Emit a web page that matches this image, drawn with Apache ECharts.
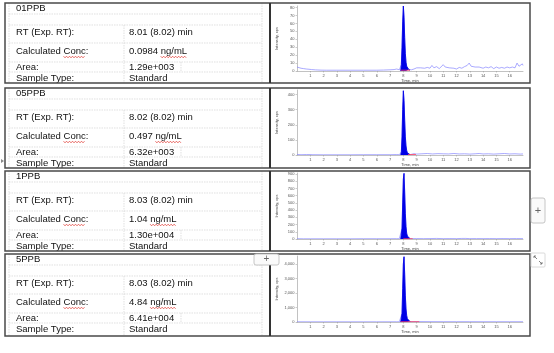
<!DOCTYPE html>
<html>
<head>
<meta charset="utf-8">
<title>Calibration standards</title>
<script src="https://cdn.jsdelivr.net/npm/echarts@6/dist/echarts.min.js"></script>
<style>html,body{margin:0;padding:0;background:#fff;}</style>
</head>
<body>
<div id="main" style="width:554px;height:353px;"></div>
<script type="text/javascript">
    // table text, one entry per standard
    var sampleNames = ['01PPB', '05PPB', '1PPB', '5PPB'];
    var rtValues = ['8.01 (8.02) min', '8.02 (8.02) min', '8.03 (8.02) min', '8.03 (8.02) min'];
    var concNumbers = ['0.0984', '0.497', '1.04', '4.84'];
    var concUnit = 'ng/mL';
    var areaValues = ['1.29e+003', '6.32e+003', '1.30e+004', '6.41e+004'];
    var sampleTypes = ['Standard', 'Standard', 'Standard', 'Standard'];

    // y axis of each chromatogram
    var yMax = [82, 430, 915, 4550];
    var yStep = [10, 100, 100, 1000];

    // integrated peak (time, min) and intensity (cps) per standard
    var peakTime = [7.80, 7.85, 7.90, 7.95, 8.00, 8.05, 8.10, 8.15, 8.20, 8.25, 8.30, 8.40, 8.50];
    var peak01 = [0, 8, 30, 62, 82, 68, 42, 22, 11, 6, 4, 2, 1];
    var peak05 = [0, 20, 120, 300, 425, 360, 230, 120, 60, 30, 15, 6, 2];
    var peak1 = [0, 20, 150, 500, 830, 910, 650, 350, 170, 80, 40, 15, 5];
    var peak5 = [0, 80, 600, 2300, 4000, 4500, 3300, 1800, 900, 450, 220, 90, 30];

    // rest of the trace [time, cps]
    var trace01 = [[0,5],[0.1,4.5],[0.3,3.5],[0.5,3],[0.7,2.5],[0.9,2.2],[1.1,1.8],[1.4,1.4],[1.8,1.1],[2.2,1],[3,1],[4,1],[5,1],[6,1],[6.5,1.2],[7,1.5],[7.3,1.8],[7.5,2.5],[7.7,1.5],
        [8.6,1.5],[8.8,2.5],[9.0,4],[9.15,6],[9.3,4],[9.45,6.5],[9.6,3.5],[9.8,4.5],[10.0,3.5],[10.15,7],[10.3,4],[10.5,5.5],[10.7,3],[10.85,5],[11.0,8],[11.15,5],[11.3,6.5],[11.45,4],[11.6,5.5],[11.8,3.5],[12.0,2.5],[12.2,4.5],[12.4,3.5],[12.6,5.5],[12.8,7],[12.95,10],[13.1,6],[13.25,7.5],[13.4,5],[13.55,6.5],[13.7,5],[13.85,6.5],[14.0,3.5],[14.2,5],[14.4,4],[14.6,5.5],[14.8,3],[15.0,5],[15.2,3.5],[15.4,4.5],[15.6,3.5],[15.8,5],[16.0,4],[16.2,5],[16.4,4],[16.55,10],[16.7,6],[16.8,4],[16.95,9],[17,7]];
    var trace05 = [[0,4],[0.3,2],[0.7,3],[0.8,8],[0.9,3],[1.2,2],[2,1.5],[3,1.5],[4,1.5],[5,2],[6,2],[7,2],[7.5,3],[7.7,2],
        [8.6,6],[8.8,9],[9,6],[9.4,8],[9.8,10],[10.2,7],[10.6,9],[11,8],[11.4,7],[11.8,10],[12.2,7],[12.6,8],[13,6],[13.4,8],[13.7,10],[14,7],[14.4,8],[14.8,6],[15.2,8],[15.6,10],[16,7],[16.4,8],[16.8,6],[17,7]];
    var trace1 = [[0,4],[0.5,3],[1,3],[2,3],[3,3],[4,3],[5,4],[6,4],[7,4],[7.5,5],[7.7,4],
        [8.6,8],[9,6],[9.5,5],[10,6],[10.5,8],[11,5],[11.5,6],[12,5],[12.4,8],[12.55,22],[12.7,8],[13,5],[13.5,6],[14,5],[14.5,6],[15,5],[15.5,6],[16,5],[16.5,6],[17,5]];
    var trace5 = [[0,15],[1,12],[2,12],[3,12],[4,12],[5,14],[6,14],[7,15],[7.5,18],[7.7,16],
        [8.6,40],[9,30],[10,25],[11,22],[12,22],[13,22],[14,20],[15,20],[16,20],[17,20]];

    // integration baseline
    var base01 = [[7.8,1],[8.5,1]];
    var base05 = [[8.35,3],[8.95,3]];
    var base1 = [[8.0,4],[8.7,4]];
    var base5 = [[7.8,20],[9.2,20]];

    var peaks = [peak01, peak05, peak1, peak5];
    var traces = [trace01, trace05, trace1, trace5];
    var bases = [base01, base05, base1, base5];

    // layout
    var rowTop = [3, 88, 171, 254];
    var rowHeight = [80, 80, 80, 82];
    var plotTop = [6, 90, 173, 256];
    var plotHeight = [65, 65, 66, 66];

    var FONT = 'Liberation Sans, Arial, sans-serif';
    var TXT = 9.5;

    var ctx = document.createElement('canvas').getContext('2d');
    ctx.font = TXT + 'px Liberation Sans';

    var grids = [], xAxes = [], yAxes = [], series = [], graphics = [];

    function wavy(x0, x1, y) {
        var pts = [], up = true;
        for (var x = x0; x <= x1; x += 1.5) {
            pts.push([x, up ? y - 0.8 : y + 0.8]);
            up = !up;
        }
        return {
            type: 'polyline', z: 110,
            shape: {points: pts},
            style: {stroke: '#e0302a', lineWidth: 0.7, fill: null}
        };
    }
    function hline(x0, x1, y) {
        return {type: 'line', z: 100, shape: {x1: x0, y1: y, x2: x1, y2: y},
            style: {stroke: '#d2d2d2', lineWidth: 0.7, lineDash: [1.5, 1]}};
    }
    function vline(x, y0, y1) {
        return {type: 'line', z: 100, shape: {x1: x, y1: y0, x2: x, y2: y1},
            style: {stroke: '#d2d2d2', lineWidth: 0.7, lineDash: [1.5, 1]}};
    }
    function txt(s, x, y) {
        return {type: 'text', z: 120, style: {text: s, x: x, y: y, fill: '#111',
            fontSize: TXT, fontFamily: FONT, verticalAlign: 'middle'}};
    }

    for (var i = 0; i < 4; i++) {
        var T = rowTop[i], H = rowHeight[i];

        // left-hand table
        [11, 22, 40, 59, 69].forEach(function (o) { graphics.push(hline(9, 262, T + o)); });
        graphics.push(vline(9, T, T + H));
        graphics.push(vline(262, T, T + H));
        graphics.push(vline(124, T + 22, T + H));
        graphics.push(vline(181, T + 59, T + 69));

        graphics.push(txt(sampleNames[i], 16, T + 5));
        graphics.push(txt('RT (Exp. RT):', 16, T + 29));
        graphics.push(txt('Calculated Conc:', 16, T + 48.5));
        graphics.push(txt('Area:', 16, T + 64));
        graphics.push(txt('Sample Type:', 16, T + 75.5));
        graphics.push(txt(rtValues[i], 129, T + 29));
        graphics.push(txt(concNumbers[i] + ' ' + concUnit, 129, T + 48.5));
        graphics.push(txt(areaValues[i], 129, T + 64));
        graphics.push(txt(sampleTypes[i], 129, T + 75.5));

        // spell-check squiggles
        var cx = 16 + ctx.measureText('Calculated ').width;
        graphics.push(wavy(cx, cx + ctx.measureText('Conc').width, T + 54));
        var ux = 129 + ctx.measureText(concNumbers[i] + ' ').width;
        graphics.push(wavy(ux, ux + ctx.measureText(concUnit).width, T + 54));

        // row frame
        graphics.push({type: 'rect', z: 130, shape: {x: 5, y: T, width: 525, height: H},
            style: {fill: null, stroke: '#4a4a4a', lineWidth: 1.5}});
        graphics.push({type: 'line', z: 130, shape: {x1: 270, y1: T, x2: 270, y2: T + H},
            style: {stroke: '#333', lineWidth: 2}});

        // chromatogram
        grids.push({left: 297, width: 226, top: plotTop[i], height: plotHeight[i]});
        xAxes.push({
            gridIndex: i, type: 'value', min: 0, max: 17, interval: 1,
            name: 'Time, min', nameLocation: 'middle', nameGap: 8,
            nameTextStyle: {fontSize: 4, color: '#444', fontFamily: FONT},
            axisLine: {onZero: false, lineStyle: {color: '#999', width: 0.6}},
            axisTick: {length: 1.5, lineStyle: {color: '#999', width: 0.5}},
            axisLabel: {fontSize: 4, color: '#555', margin: 2.5, fontFamily: FONT,
                showMinLabel: false, showMaxLabel: false},
            splitLine: {show: false}
        });
        yAxes.push({
            gridIndex: i, type: 'value', min: 0, max: yMax[i], interval: yStep[i],
            name: 'Intensity, cps', nameLocation: 'middle', nameRotate: 90, nameGap: 18,
            nameTextStyle: {fontSize: 4, color: '#444', fontFamily: FONT},
            axisLine: {show: true, lineStyle: {color: '#999', width: 0.6}},
            axisTick: {show: true, length: 1.5, lineStyle: {color: '#999', width: 0.5}},
            axisLabel: {fontSize: 4, color: '#555', margin: 2.5, fontFamily: FONT, showMaxLabel: false},
            splitLine: {show: false}
        });

        var peakData = peakTime.map(function (t, k) { return [t, peaks[i][k]]; });
        var pre = traces[i].filter(function (p) { return p[0] < peakTime[0]; });
        var post = traces[i].filter(function (p) { return p[0] > peakTime[peakTime.length - 1]; });

        series.push({
            type: 'line', xAxisIndex: i, yAxisIndex: i, data: pre.concat(peakData, post),
            symbol: 'none', z: 2, lineStyle: {color: '#8585ff', width: 0.7}
        });
        series.push({
            type: 'line', xAxisIndex: i, yAxisIndex: i, data: peakData,
            symbol: 'none', z: 3, lineStyle: {color: '#0000e6', width: 0.8},
            areaStyle: {color: '#0000e6', opacity: 1}
        });
        series.push({
            type: 'line', xAxisIndex: i, yAxisIndex: i, data: bases[i],
            symbol: 'none', z: 4, lineStyle: {color: '#ff3b5c', width: 0.8}
        });
    }

    // editor widgets around the table
    graphics.push({type: 'rect', z: 140, shape: {x: 531, y: 198, width: 14, height: 25, r: 2},
        style: {fill: '#fafafa', stroke: '#b8b8b8', lineWidth: 0.8}});
    graphics.push({type: 'text', z: 141, style: {text: '+', x: 538, y: 211, fontSize: 11, fill: '#666',
        align: 'center', verticalAlign: 'middle', fontFamily: FONT}});
    graphics.push({type: 'rect', z: 140, shape: {x: 254, y: 254, width: 25, height: 11, r: 2},
        style: {fill: '#fafafa', stroke: '#b8b8b8', lineWidth: 0.8}});
    graphics.push({type: 'text', z: 141, style: {text: '+', x: 266.5, y: 259.5, fontSize: 10, fill: '#666',
        align: 'center', verticalAlign: 'middle', fontFamily: FONT}});
    graphics.push({type: 'rect', z: 140, shape: {x: 531, y: 253, width: 14, height: 14, r: 1},
        style: {fill: '#fff', stroke: '#d0d0d0', lineWidth: 0.8}});
    graphics.push({type: 'polyline', z: 141, shape: {points: [[534, 258], [534, 256], [536, 256]]},
        style: {stroke: '#666', lineWidth: 0.8, fill: null}});
    graphics.push({type: 'line', z: 141, shape: {x1: 534, y1: 256, x2: 537, y2: 259}, style: {stroke: '#666', lineWidth: 0.8}});
    graphics.push({type: 'polyline', z: 141, shape: {points: [[542, 262], [542, 264], [540, 264]]},
        style: {stroke: '#666', lineWidth: 0.8, fill: null}});
    graphics.push({type: 'line', z: 141, shape: {x1: 542, y1: 264, x2: 539, y2: 261}, style: {stroke: '#666', lineWidth: 0.8}});
    graphics.push({type: 'polygon', z: 141, shape: {points: [[1, 159], [4, 161], [1, 163]]},
        style: {fill: '#888'}});

    var chart = echarts.init(document.getElementById('main'));
    chart.setOption({
        animation: false,
        backgroundColor: '#fff',
        textStyle: {fontFamily: FONT},
        grid: grids,
        xAxis: xAxes,
        yAxis: yAxes,
        series: series,
        graphic: graphics
    });
</script>
</body>
</html>
